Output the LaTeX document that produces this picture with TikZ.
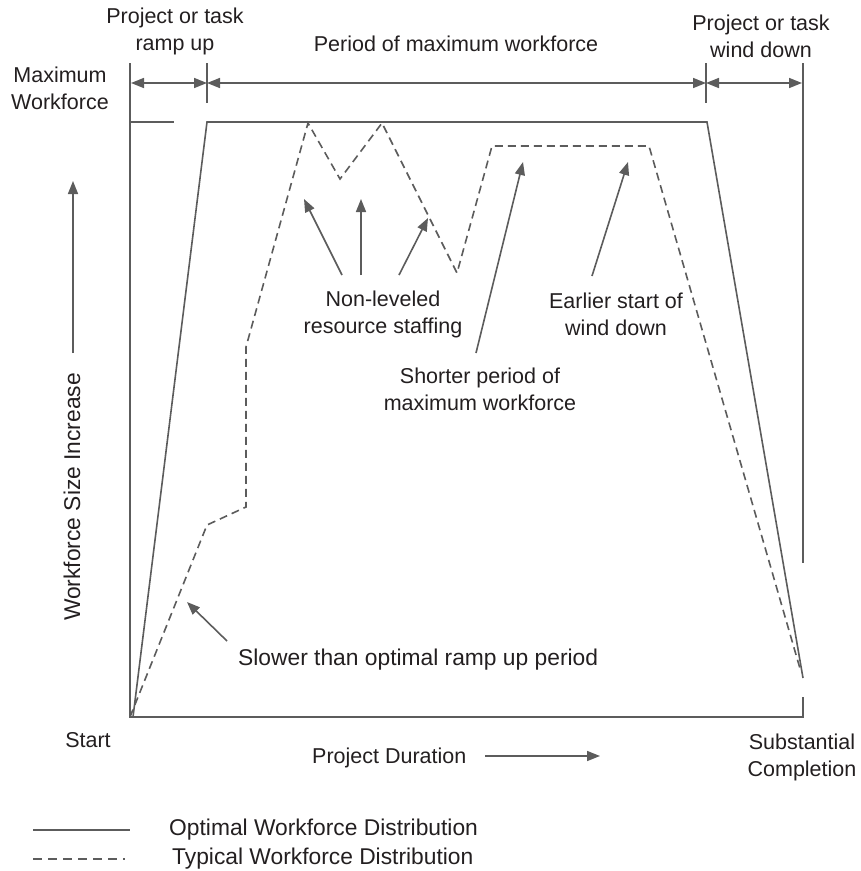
\documentclass[tikz,border=0pt]{standalone}
\usepackage{fontspec}
\setmainfont{Liberation Sans}
\usetikzlibrary{arrows.meta}
\definecolor{ln}{HTML}{5C5C5C}
\definecolor{tx}{HTML}{231F20}
\begin{document}
\begin{tikzpicture}[x=1pt,y=-1pt,
  solidln/.style={draw=ln,line width=1.6pt,line join=miter},
  axisln/.style={draw=ln,line width=2pt},
  dashln/.style={draw=ln,line width=1.6pt,dash pattern=on 8pt off 5pt},
  annarrow/.style={draw=ln,line width=1.6pt,-{Triangle[length=13pt,width=10pt]}},
  dimarrow/.style={draw=ln,line width=1.6pt,{Triangle[length=13pt,width=10pt]}-{Triangle[length=13pt,width=10pt]}},
  lbl/.style={text=tx,font=\fontsize{21.5}{27}\selectfont,align=center,inner sep=0pt},
  biglbl/.style={lbl,font=\fontsize{22.8}{27}\selectfont},
]
\useasboundingbox (0,0) rectangle (861,871);
% axes frame
\coordinate (tl) at (130,63);
\coordinate (bl) at (130,717);
\coordinate (br) at (803,717);
\coordinate (brs) at (803,697);
\coordinate (tr) at (803,63);
\coordinate (trb) at (803,563);
\draw[axisln] (brs) -- (br) -- (bl) -- (tl);
\draw[axisln] (tr) -- (trb);
\coordinate (mw1) at (130,122);
\coordinate (mw2) at (174,122);
\draw[solidln] (mw1) -- (mw2);
% ticks
\coordinate (t1a) at (207,63);
\coordinate (t1b) at (207,103);
\coordinate (t2a) at (706,63);
\coordinate (t2b) at (706,103);
\draw[solidln] (t1a) -- (t1b);
\draw[solidln] (t2a) -- (t2b);
% dimension arrows
\coordinate (d0) at (131,83);
\coordinate (d1) at (207,83);
\coordinate (d2) at (706,83);
\coordinate (d3) at (802,83);
\draw[dimarrow] (d0) -- (d1);
\draw[dimarrow] (d1) -- (d2);
\draw[dimarrow] (d2) -- (d3);
% optimal
\coordinate (s0) at (133,717);
\coordinate (s1) at (207,122);
\coordinate (s2) at (707,122);
\coordinate (s3) at (803,678);
\draw[solidln] (s0) -- (s1) -- (s2) -- (s3);
% typical
\coordinate (p0) at (130,717);
\coordinate (p1) at (207,525);
\coordinate (p2) at (246,507);
\coordinate (p3) at (246,347);
\coordinate (p4) at (308,123);
\coordinate (p5) at (340,179);
\coordinate (p6) at (382,123);
\coordinate (p7) at (457,273);
\coordinate (p8) at (492,146);
\coordinate (p9) at (649,146);
\coordinate (p10) at (801,672);
\draw[dashln] (p0) -- (p1) -- (p2) -- (p3) -- (p4) -- (p5) -- (p6) -- (p7) -- (p8) -- (p9) -- (p10);
% annotation arrows
\coordinate (a1s) at (342,275); \coordinate (a1e) at (304,199);
\coordinate (a2s) at (361,275); \coordinate (a2e) at (361,199);
\coordinate (a3s) at (399,275); \coordinate (a3e) at (428,218);
\coordinate (a4s) at (476,353); \coordinate (a4e) at (523,162);
\coordinate (a5s) at (592,276); \coordinate (a5e) at (628,162);
\coordinate (a6s) at (227,641); \coordinate (a6e) at (187,602);
\coordinate (a7s) at (73,353); \coordinate (a7e) at (73,181);
\coordinate (a8s) at (485,756); \coordinate (a8e) at (600,756);
\foreach \i in {1,...,8} {\draw[annarrow] (a\i s) -- (a\i e);}
% labels
\node[lbl] (rampup) at (175,31) {Project or task\\ramp up};
\node[lbl] (maxwf) at (60,88) {Maximum\\Workforce};
\node[lbl] (period) at (456,44) {Period of maximum workforce};
\node[lbl] (winddown) at (761,36) {Project or task\\wind down};
\node[lbl] (nonlev) at (383,314) {Non-leveled\\resource staffing};
\node[lbl] (earlier) at (616,314) {Earlier start of\\wind down};
\node[lbl] (shorter) at (480,389) {Shorter period of\\maximum workforce};
\node[biglbl,anchor=west] (slower) at (238,660) {Slower than optimal ramp up period};
\node[lbl] (start) at (88,740) {Start};
\node[lbl,anchor=west] (duration) at (312,758) {Project Duration};
\node[lbl] (subst) at (802,757) {Substantial\\Completion};
\node[biglbl,rotate=90] (wfsize) at (72,497) {Workforce Size Increase};
% legend
\coordinate (lg1a) at (33,830); \coordinate (lg1b) at (130,830);
\coordinate (lg2a) at (33,859); \coordinate (lg2b) at (125,859);
\draw[solidln] (lg1a) -- (lg1b);
\draw[draw=ln,line width=1.6pt,dash pattern=on 9pt off 6pt] (lg2a) -- (lg2b);
\node[biglbl,anchor=west] (optleg) at (169,830) {Optimal Workforce Distribution};
\node[biglbl,anchor=west] (typleg) at (172,859) {Typical Workforce Distribution};
\end{tikzpicture}
\end{document}
